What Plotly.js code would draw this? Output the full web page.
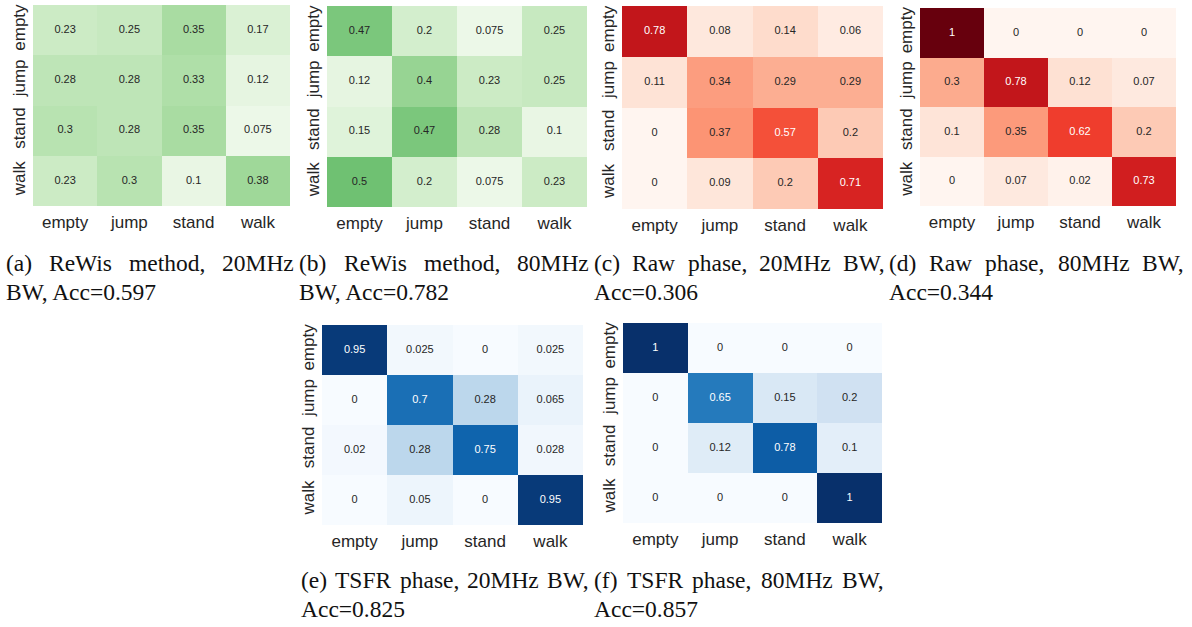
<!DOCTYPE html>
<html>
<head>
<meta charset="utf-8">
<script src="https://cdn.plot.ly/plotly-3.0.1.min.js"></script>
<style>
  html, body { margin: 0; padding: 0; background: #ffffff; }
  #chart { width: 1192px; height: 627px; }
</style>
</head>
<body>
<div id="chart"></div>
<script>
// ---------------- data ----------------
const categories = ['empty', 'jump', 'stand', 'walk'];

const rewis20 = [[0.23, 0.25, 0.35, 0.17], [0.28, 0.28, 0.33, 0.12], [0.3, 0.28, 0.35, 0.075], [0.23, 0.3, 0.1, 0.38]];
const rewis80 = [[0.47, 0.2, 0.075, 0.25], [0.12, 0.4, 0.23, 0.25], [0.15, 0.47, 0.28, 0.1], [0.5, 0.2, 0.075, 0.23]];
const raw20 = [[0.78, 0.08, 0.14, 0.06], [0.11, 0.34, 0.29, 0.29], [0, 0.37, 0.57, 0.2], [0, 0.09, 0.2, 0.71]];
const raw80 = [[1, 0, 0, 0], [0.3, 0.78, 0.12, 0.07], [0.1, 0.35, 0.62, 0.2], [0, 0.07, 0.02, 0.73]];
const tsfr20 = [[0.95, 0.025, 0, 0.025], [0, 0.7, 0.28, 0.065], [0.02, 0.28, 0.75, 0.028], [0, 0.05, 0, 0.95]];
const tsfr80 = [[1, 0, 0, 0], [0, 0.65, 0.15, 0.2], [0, 0.12, 0.78, 0.1], [0, 0, 0, 1]];

const captionFirst = ['(a) ReWis method, 20MHz', '(b) ReWis method, 80MHz', '(c) Raw phase, 20MHz BW,',
                      '(d) Raw phase, 80MHz BW,', '(e) TSFR phase, 20MHz BW,', '(f) TSFR phase, 80MHz BW,'];
const captionSecond = ['BW, Acc=0.597', 'BW, Acc=0.782', 'Acc=0.306', 'Acc=0.344', 'Acc=0.825', 'Acc=0.857'];

// ---------------- styles ----------------
const GREENS = ['#f7fcf5', '#e5f5e0', '#c7e9c0', '#a1d99b', '#6fc172', '#3ea95a', '#238b45', '#006d2c', '#00441b'];
const REDS = ['#fff5f0', '#fee0d2', '#fcbba1', '#fc9272', '#fb6a4a', '#ef3b2c', '#cb181d', '#a50f15', '#67000d'];
const BLUES = ['#f7fbff', '#deebf7', '#c6dbef', '#9ecae1', '#5ca2d2', '#2a80c0', '#0f64ad', '#08488f', '#08306b'];

// panel boxes in pixels: [left, right, top, bottom]
const panels = [
  {z: rewis20, cmap: GREENS, box: [33, 290, 5, 206]},
  {z: rewis80, cmap: GREENS, box: [327, 587, 6, 207]},
  {z: raw20, cmap: REDS, box: [622, 883, 6, 209]},
  {z: raw80, cmap: REDS, box: [920, 1176, 8, 206]},
  {z: tsfr20, cmap: BLUES, box: [322, 583, 325, 525]},
  {z: tsfr80, cmap: BLUES, box: [623, 882, 323, 523]}
];
// caption placements in pixels: [x0, x1, yLine1, yLine2]
const captionBoxes = [
  [5, 293, 263, 292], [298, 588, 263, 292], [593, 884, 263, 292], [888, 1183, 263, 292],
  [300, 588, 580, 609], [593, 883, 580, 609]
];

const W = 1192, H = 627;
const CAPTION_FONT = 23.5;
const SERIF = 'Liberation Serif, Times New Roman, serif';
const SANS = 'Liberation Sans, Arial, sans-serif';

function hexToRgb(h) {
  return [parseInt(h.slice(1, 3), 16), parseInt(h.slice(3, 5), 16), parseInt(h.slice(5, 7), 16)];
}
function colorAt(cmap, v) {
  const t = Math.max(0, Math.min(1, v)) * (cmap.length - 1);
  const i = Math.min(Math.floor(t), cmap.length - 2);
  const f = t - i;
  const a = hexToRgb(cmap[i]), b = hexToRgb(cmap[i + 1]);
  return a.map((c, k) => c + (b[k] - c) * f);
}
function luminance(rgb) {
  const lin = rgb.map(c => {
    c = c / 255;
    return c <= 0.03928 ? c / 12.92 : Math.pow((c + 0.055) / 1.055, 2.4);
  });
  return 0.2126 * lin[0] + 0.7152 * lin[1] + 0.0722 * lin[2];
}
function toScale(cmap) {
  return cmap.map((c, i) => [i / (cmap.length - 1), c]);
}

const data = [];
const layout = {
  width: W, height: H,
  margin: {l: 0, r: 0, t: 0, b: 0},
  paper_bgcolor: '#ffffff', plot_bgcolor: '#ffffff',
  showlegend: false,
  annotations: []
};

panels.forEach((p, idx) => {
  const n = idx + 1;
  const xa = n === 1 ? 'x' : 'x' + n;
  const ya = n === 1 ? 'y' : 'y' + n;
  data.push({
    type: 'heatmap', x: categories, y: categories, z: p.z,
    colorscale: toScale(p.cmap), zmin: 0, zmax: 1, showscale: false,
    hoverinfo: 'skip', xaxis: xa, yaxis: ya
  });
  const tx = [], ty = [], tt = [], tc = [];
  p.z.forEach((row, r) => row.forEach((v, c) => {
    tx.push(categories[c]); ty.push(categories[r]); tt.push(String(v));
    tc.push(luminance(colorAt(p.cmap, v)) > 0.408 ? '#262626' : '#ffffff');
  }));
  data.push({
    type: 'scatter', mode: 'text', x: tx, y: ty, text: tt,
    textfont: {family: SANS, size: 11, color: tc},
    hoverinfo: 'skip', xaxis: xa, yaxis: ya, cliponaxis: false
  });
  const [l, r, t, b] = p.box;
  const axX = {
    domain: [l / W, r / W], anchor: ya, showgrid: false, zeroline: false, showline: false,
    ticks: '', ticklabelstandoff: 4, tickfont: {family: SANS, size: 17, color: '#262626'}, fixedrange: true
  };
  const axY = {
    domain: [1 - b / H, 1 - t / H], anchor: xa, showgrid: false, zeroline: false, showline: false,
    autorange: 'reversed', ticks: '', tickangle: -90, ticklabelstandoff: 4,
    tickfont: {family: SANS, size: 17, color: '#262626'}, fixedrange: true
  };
  layout[n === 1 ? 'xaxis' : 'xaxis' + n] = axX;
  layout[n === 1 ? 'yaxis' : 'yaxis' + n] = axY;
});

// captions: first line justified between x0 and x1, second line left aligned
const ctx = document.createElement('canvas').getContext('2d');
ctx.font = CAPTION_FONT + "px 'Liberation Serif'";
captionFirst.forEach((line, i) => {
  const [x0, x1, y1, y2] = captionBoxes[i];
  const words = line.split(' ');
  const widths = words.map(w => ctx.measureText(w).width);
  const total = widths.reduce((a, b) => a + b, 0);
  const gap = words.length > 1 ? (x1 - x0 - total) / (words.length - 1) : 0;
  let pos = x0;
  words.forEach((w, k) => {
    layout.annotations.push({
      xref: 'paper', yref: 'paper', x: pos / W, y: 1 - y1 / H,
      xanchor: 'left', yanchor: 'middle', text: w, showarrow: false, borderpad: 0,
      font: {family: SERIF, size: CAPTION_FONT, color: '#111111'}
    });
    pos += widths[k] + gap;
  });
  layout.annotations.push({
    xref: 'paper', yref: 'paper', x: x0 / W, y: 1 - y2 / H,
    xanchor: 'left', yanchor: 'middle', text: captionSecond[i], showarrow: false, borderpad: 0,
    font: {family: SERIF, size: CAPTION_FONT, color: '#111111'}
  });
});

Plotly.newPlot('chart', data, layout, {staticPlot: true, displayModeBar: false});
</script>
</body>
</html>
